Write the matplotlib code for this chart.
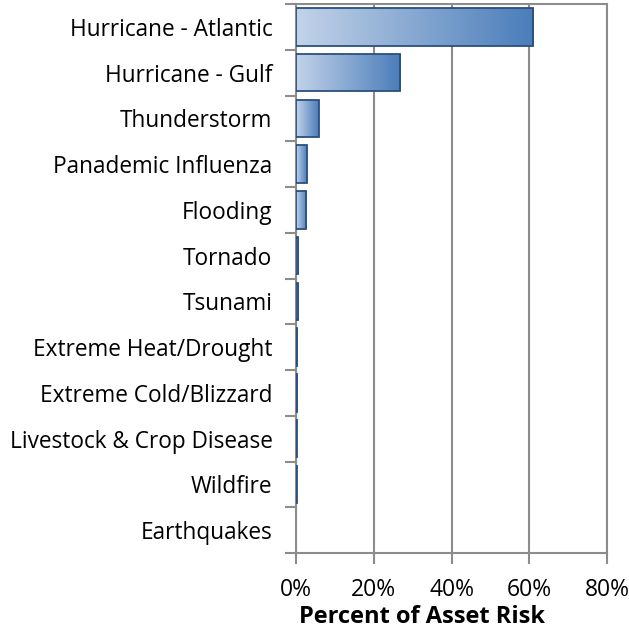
import numpy as np
import matplotlib
matplotlib.use("Agg")
import matplotlib.pyplot as plt
from matplotlib.colors import LinearSegmentedColormap
from matplotlib.patches import Rectangle

categories = [
    "Hurricane - Atlantic",
    "Hurricane - Gulf",
    "Thunderstorm",
    "Panademic Influenza",
    "Flooding",
    "Tornado",
    "Tsunami",
    "Extreme Heat/Drought",
    "Extreme Cold/Blizzard",
    "Livestock & Crop Disease",
    "Wildfire",
    "Earthquakes",
]
risk_pct = [61.0, 26.8, 5.9, 2.8, 2.6, 0.6, 0.6, 0.3, 0.3, 0.2, 0.2, 0.0]
x_ticks = [0, 20, 40, 60, 80]
x_tick_labels = ["0%", "20%", "40%", "60%", "80%"]

plt.rcParams["font.family"] = ["Open Sans", "DejaVu Sans"]

fig = plt.figure(figsize=(6.29, 6.31), dpi=100)
ax = fig.add_axes([296 / 629, 1 - 553 / 631, (607 - 296) / 629, (553 - 4) / 631])

grey = "#8c8c8c"
edge = "#2a4f80"
cmap = LinearSegmentedColormap.from_list("bar", ["#c3d3e9", "#4a7dba"])
gradient = np.linspace(0, 1, 256).reshape(1, -1)

n = len(categories)
ypos = np.arange(n)
bar_h = 0.82

for y, v in zip(ypos, risk_pct):
    if v <= 0:
        continue
    y0 = y - bar_h / 2
    im = ax.imshow(gradient, cmap=cmap, aspect="auto",
                   extent=(0, v, y + bar_h / 2, y0), zorder=3,
                   interpolation="bilinear")
    rect = Rectangle((0, y0), v, bar_h, facecolor="none",
                     edgecolor=edge, linewidth=1.3, zorder=4)
    ax.add_patch(rect)
    im.set_clip_path(rect)

ax.set_xlim(0, 80)
ax.set_ylim(n - 0.5, -0.5)

ax.set_xticks(x_ticks)
ax.set_xticklabels(x_tick_labels, fontsize=16.5)
ax.set_yticks(ypos)
ax.set_yticklabels(categories, fontsize=16.3)
ax.set_yticks(np.arange(-0.5, n, 1.0), minor=True)

ax.tick_params(axis="y", which="major", length=0, pad=17)
ax.tick_params(axis="y", which="minor", length=8, width=1.5, color=grey, direction="out")
ax.tick_params(axis="x", which="major", length=8, width=1.5, color=grey, direction="out", pad=10)

ax.grid(axis="x", color=grey, linewidth=1.5, zorder=0)
ax.set_axisbelow(True)
for side in ["left", "bottom", "top", "right"]:
    ax.spines[side].set_color(grey)
    ax.spines[side].set_linewidth(1.5)

ax.set_xlabel("Percent of Asset Risk", fontsize=17, fontweight="bold")
ax.xaxis.set_label_coords((422 - 296) / (607 - 296), -0.094)

fig.savefig("out.png", dpi=100)
